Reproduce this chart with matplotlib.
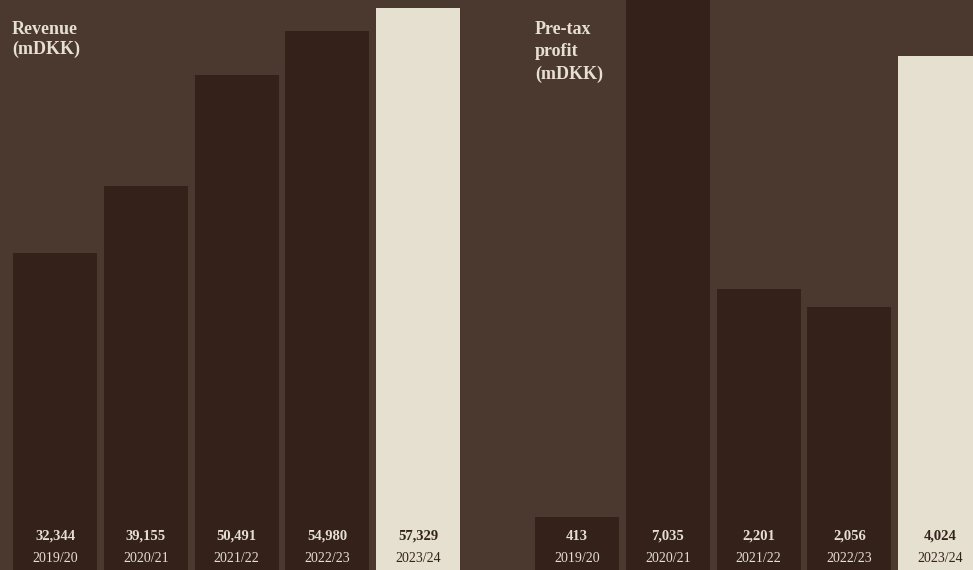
import numpy as np
import matplotlib
matplotlib.use("Agg")
import matplotlib.pyplot as plt

years = ["2019/20", "2020/21", "2021/22", "2022/23", "2023/24"]
revenue = [32344, 39155, 50491, 54980, 57329]
profit = [413, 7035, 2201, 2056, 4024]

bg = "#4b3930"
dark = "#33211a"
light = "#e6e0d1"

plt.rcParams["font.family"] = ["Liberation Serif", "DejaVu Serif"]

W, H = 973, 570
fig = plt.figure(figsize=(W / 100, H / 100), dpi=100)
fig.patch.set_facecolor(bg)

step = 90.75   # px between bar centres
barw = 84 / step


def panel(left_px, width_px, first_center_px, vals, ymax, title, title_x, lsp):
    ax = fig.add_axes([left_px / W, 0, width_px / W, 1])
    ax.set_facecolor(bg)
    ax.set_xlim((left_px - first_center_px) / step,
                (left_px + width_px - first_center_px) / step)
    ax.set_ylim(0, ymax)
    ax.axis("off")
    x = np.arange(len(vals))
    cols = [dark] * (len(vals) - 1) + [light]
    ax.bar(x, vals, width=barw, color=cols, linewidth=0)
    for i, v in enumerate(vals):
        tc = dark if i == len(vals) - 1 else light
        ax.text(i, 34 / H, f"{v:,}", transform=ax.get_xaxis_transform(),
                ha="center", va="center", fontsize=10.5, fontweight="bold", color=tc)
        ax.text(i, 12 / H, years[i], transform=ax.get_xaxis_transform(),
                ha="center", va="center", fontsize=10, color=tc)
    fig.text(title_x / W, 1 - 21 / H, title, ha="left", va="top",
             fontsize=13, fontweight="bold", color=light, linespacing=lsp)
    return ax


panel(0, 490, 55, revenue, 58100, "Revenue\n(mDKK)", 12, 1.2)
panel(490, 483, 577, profit, 4460, "Pre-tax\nprofit\n(mDKK)", 535, 1.4)

fig.savefig("out.png", dpi=100, facecolor=bg)
